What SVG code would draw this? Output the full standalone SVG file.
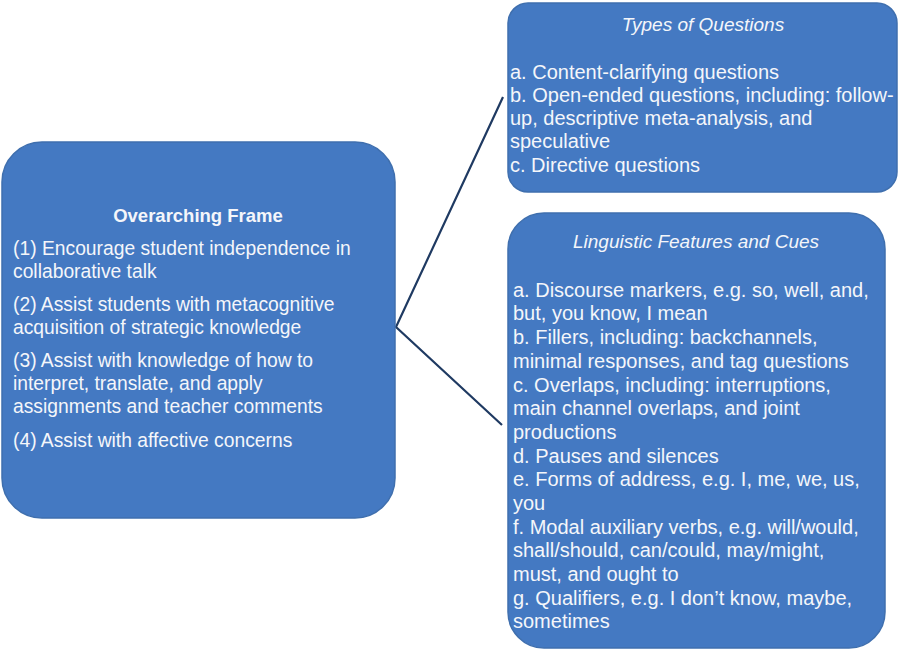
<svg xmlns="http://www.w3.org/2000/svg" width="899" height="651" viewBox="0 0 899 651">
<style>
.box{fill:#4479c2;stroke:#3f6fae;stroke-width:1.5}
text{font-family:"Liberation Sans",Arial,sans-serif;font-size:19.3px;fill:#f4f6fa}
.r text{font-size:20px}
.t{font-weight:bold;text-anchor:middle;font-size:18.5px}
.r .i{font-style:italic;text-anchor:middle;font-size:19px}
.c{fill:none;stroke:#1f3a62;stroke-width:2.2;stroke-linejoin:miter}
</style>
<rect width="899" height="651" fill="#ffffff"/>
<g id="connectors">
<path class="c" d="M503 97 L396 327 L502 425"/>
</g>
<g id="overarching">
<rect class="box" x="2" y="142" width="393" height="376" rx="40"/>
<text class="t" x="198" y="222">Overarching Frame</text>
<text x="13" y="255">(1) Encourage student independence in</text>
<text x="13" y="278">collaborative talk</text>
<text x="13" y="311">(2) Assist students with metacognitive</text>
<text x="13" y="334">acquisition of strategic knowledge</text>
<text x="13" y="367">(3) Assist with knowledge of how to</text>
<text x="13" y="390">interpret, translate, and apply</text>
<text x="13" y="413">assignments and teacher comments</text>
<text x="13" y="447">(4) Assist with affective concerns</text>
</g>
<g id="types" class="r">
<rect class="box" x="508" y="3" width="389" height="189" rx="20"/>
<text class="i" x="703" y="31">Types of Questions</text>
<text x="510" y="79">a. Content-clarifying questions</text>
<text x="510" y="102">b. Open-ended questions, including: follow-</text>
<text x="510" y="125">up, descriptive meta-analysis, and</text>
<text x="510" y="148">speculative</text>
<text x="510" y="172">c. Directive questions</text>
</g>
<g id="linguistic" class="r">
<rect class="box" x="508" y="213" width="377" height="435" rx="36"/>
<text class="i" x="696" y="248">Linguistic Features and Cues</text>
<text x="513" y="297">a. Discourse markers, e.g. so, well, and,</text>
<text x="513" y="320">but, you know, I mean</text>
<text x="513" y="344">b. Fillers, including: backchannels,</text>
<text x="513" y="368">minimal responses, and tag questions</text>
<text x="513" y="392">c. Overlaps, including: interruptions,</text>
<text x="513" y="415">main channel overlaps, and joint</text>
<text x="513" y="439">productions</text>
<text x="513" y="463">d. Pauses and silences</text>
<text x="513" y="486">e. Forms of address, e.g. I, me, we, us,</text>
<text x="513" y="510">you</text>
<text x="513" y="534">f. Modal auxiliary verbs, e.g. will/would,</text>
<text x="513" y="557">shall/should, can/could, may/might,</text>
<text x="513" y="581">must, and ought to</text>
<text x="513" y="605">g. Qualifiers, e.g. I don’t know, maybe,</text>
<text x="513" y="628">sometimes</text>
</g>
</svg>
